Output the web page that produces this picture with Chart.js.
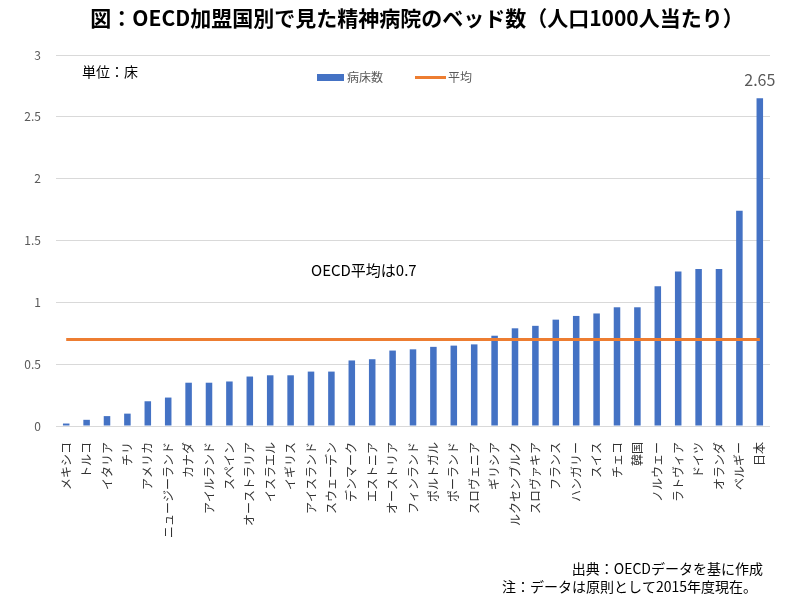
<!DOCTYPE html>
<html lang="ja">
<head>
  <meta charset="UTF-8" />
  <title>OECD加盟国別 精神病院のベッド数</title>
  <script src="https://cdn.jsdelivr.net/npm/chart.js"></script>
  <style>
    body { margin: 0; background: #fff; }
  </style>
</head>
<body>
  <canvas id="grafico" width="800" height="600"></canvas>
  <script>
    const paises = ['メキシコ', 'トルコ', 'イタリア', 'チリ', 'アメリカ', 'ニュージーランド', 'カナダ',
      'アイルランド', 'スペイン', 'オーストラリア', 'イスラエル', 'イギリス', 'アイスランド', 'スウェーデン',
      'デンマーク', 'エストニア', 'オーストリア', 'フィンランド', 'ポルトガル', 'ポーランド', 'スロヴェニア',
      'ギリシア', 'ルクセンブルク', 'スロヴァキア', 'フランス', 'ハンガリー', 'スイス', 'チェコ', '韓国',
      'ノルウェー', 'ラトヴィア', 'ドイツ', 'オランダ', 'ベルギー', '日本'];
    const leitos = [0.02, 0.05, 0.08, 0.10, 0.20, 0.23, 0.35, 0.35, 0.36, 0.40, 0.41, 0.41, 0.44, 0.44,
      0.53, 0.54, 0.61, 0.62, 0.64, 0.65, 0.66, 0.73, 0.79, 0.81, 0.86, 0.89, 0.91, 0.96, 0.96,
      1.13, 1.25, 1.27, 1.27, 1.74, 2.65];
    const mediaOECD = 0.7;
    const media = paises.map(() => mediaOECD);

    const FONTE = '"Noto Sans CJK JP", "Noto Sans", sans-serif';
    const AZUL = '#4472C4';
    const LARANJA = '#ED7D31';

    const textos = {
      id: 'textos',
      afterDraw(chart) {
        const ctx = chart.ctx;
        ctx.save();
        ctx.textBaseline = 'middle';

        ctx.fillStyle = '#000';
        ctx.textAlign = 'center';
        ctx.font = 'bold 21px ' + FONTE;
        ctx.fillText('図：OECD加盟国別で見た精神病院のベッド数（人口1000人当たり）', 417, 18);

        ctx.textAlign = 'left';
        ctx.font = '14px ' + FONTE;
        ctx.fillText('単位：床', 82, 72);
        ctx.font = '15px ' + FONTE;
        ctx.fillText('OECD平均は0.7', 311, 270);

        // legenda
        ctx.fillStyle = AZUL;
        ctx.fillRect(317, 74, 27, 7);
        ctx.strokeStyle = LARANJA;
        ctx.lineWidth = 3;
        ctx.beginPath();
        ctx.moveTo(415, 77.5);
        ctx.lineTo(446, 77.5);
        ctx.stroke();
        ctx.fillStyle = '#595959';
        ctx.font = '12px ' + FONTE;
        ctx.fillText('病床数', 347, 77);
        ctx.fillText('平均', 448, 77);

        // rótulo do último valor
        const meta = chart.getDatasetMeta(1);
        const ult = meta.data[meta.data.length - 1];
        ctx.textAlign = 'center';
        ctx.font = '16px ' + FONTE;
        ctx.fillText(leitos[leitos.length - 1].toFixed(2), ult.x, ult.y - 18);

        ctx.fillStyle = '#000';
        ctx.textAlign = 'right';
        ctx.font = '14px ' + FONTE;
        ctx.fillText('出典：OECDデータを基に作成', 763, 569);
        ctx.fillText('注：データは原則として2015年度現在。', 757, 587);
        ctx.restore();
      }
    };

    new Chart(document.getElementById('grafico'), {
      type: 'bar',
      data: {
        labels: paises,
        datasets: [
          {
            type: 'line', label: '平均', data: media,
            borderColor: LARANJA, backgroundColor: LARANJA,
            borderWidth: 3, pointRadius: 0
          },
          {
            label: '病床数', data: leitos,
            backgroundColor: AZUL,
            barPercentage: 0.4, categoryPercentage: 0.8
          }
        ]
      },
      options: {
        responsive: false,
        animation: false,
        layout: { padding: { top: 55, right: 30, left: 0, bottom: 0 } },
        plugins: {
          legend: { display: false },
          tooltip: { enabled: false }
        },
        scales: {
          x: {
            grid: { display: false },
            border: { display: false },
            afterFit: s => { s.height = 174; },
            ticks: {
              autoSkip: false, maxRotation: 90, minRotation: 90, padding: 8,
              color: '#333', font: { family: FONTE, size: 12 }
            }
          },
          y: {
            min: 0, max: 3,
            border: { display: false },
            grid: { color: '#d9d9d9', drawTicks: false },
            afterFit: s => { s.width = 56; },
            ticks: {
              stepSize: 0.5, padding: 15,
              callback: v => String(v),
              color: '#595959', font: { family: FONTE, size: 12 }
            }
          }
        }
      },
      plugins: [textos]
    });
  </script>
</body>
</html>
